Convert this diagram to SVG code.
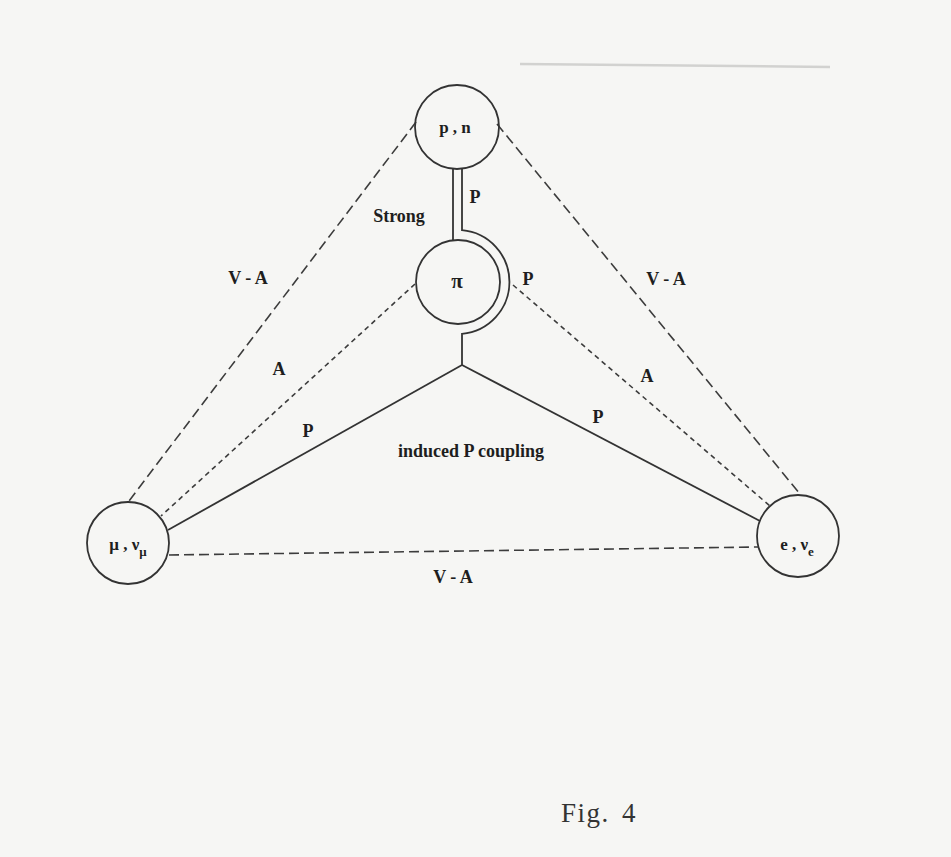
<svg xmlns="http://www.w3.org/2000/svg" width="951" height="857" viewBox="0 0 951 857">
<style>
  .bg { fill: #f6f6f4; }
  .node { fill: none; stroke: #333; stroke-width: 1.8; }
  .solid { fill: none; stroke: #333; stroke-width: 1.8; }
  .va { fill: none; stroke: #3c3c3c; stroke-width: 1.6; stroke-dasharray: 10 5; }
  .a { fill: none; stroke: #3c3c3c; stroke-width: 1.6; stroke-dasharray: 5 4; }
  .lbl { font-family: "Liberation Serif", "Times New Roman", serif; font-weight: bold; font-size: 18px; fill: #1e1e1e; text-anchor: middle; }
  .sm { font-size: 17px; }
  .sub { font-size: 13px; }
  .big { font-size: 21px; }
  .fig { font-family: "Liberation Serif", "Times New Roman", serif; font-size: 27px; fill: #333; letter-spacing: 1.5px; word-spacing: 4px; }
</style>
<rect class="bg" x="0" y="0" width="951" height="857"/>
<line x1="520" y1="64" x2="830" y2="67" stroke="#d2d2d0" stroke-width="2.5"/>

<g id="connectors">
  <line class="va" x1="416" y1="122" x2="129" y2="501"/>
  <line class="va" x1="497" y1="124" x2="800" y2="494"/>
  <line class="a" x1="415" y1="284" x2="161" y2="516"/>
  <line class="a" x1="513" y1="285" x2="770" y2="506"/>
  <line class="solid" x1="462" y1="365" x2="168" y2="530"/>
  <line class="solid" x1="462" y1="365" x2="760" y2="521"/>
  <line class="va" x1="169" y1="555" x2="758" y2="547"/>
  <line class="solid" x1="453" y1="168.8" x2="453" y2="240.3"/>
  <path class="solid" d="M462,168.5 L462,230.2 A52,52 0 0 1 462,333.8 L462,365"/>
</g>

<g id="node-pn">
  <circle class="node" cx="457" cy="127" r="42"/>
  <text class="lbl sm" x="455" y="133">p , n</text>
</g>
<g id="node-pi">
  <circle class="node" cx="458" cy="282" r="42"/>
  <text class="lbl big" x="457" y="288">π</text>
</g>
<g id="node-mu">
  <circle class="node" cx="128" cy="543" r="41"/>
  <text class="lbl sm" x="128" y="550">μ , ν<tspan class="sub" dy="6">μ</tspan></text>
</g>
<g id="node-e">
  <circle class="node" cx="798" cy="536" r="41"/>
  <text class="lbl sm" x="797" y="550">e , ν<tspan class="sub" dy="6">e</tspan></text>
</g>

<g id="labels">
  <text class="lbl" x="475" y="203">P</text>
  <text class="lbl" x="399" y="222">Strong</text>
  <text class="lbl" x="528" y="285">P</text>
  <text class="lbl" x="248" y="284">V - A</text>
  <text class="lbl" x="666" y="285">V - A</text>
  <text class="lbl" x="279" y="375">A</text>
  <text class="lbl" x="647" y="382">A</text>
  <text class="lbl" x="308" y="437">P</text>
  <text class="lbl" x="598" y="423">P</text>
  <text class="lbl" x="471" y="457" font-size="19">induced P coupling</text>
  <text class="lbl" x="453" y="583">V - A</text>
  <text class="fig" x="561" y="822">Fig. 4</text>
</g>
</svg>
